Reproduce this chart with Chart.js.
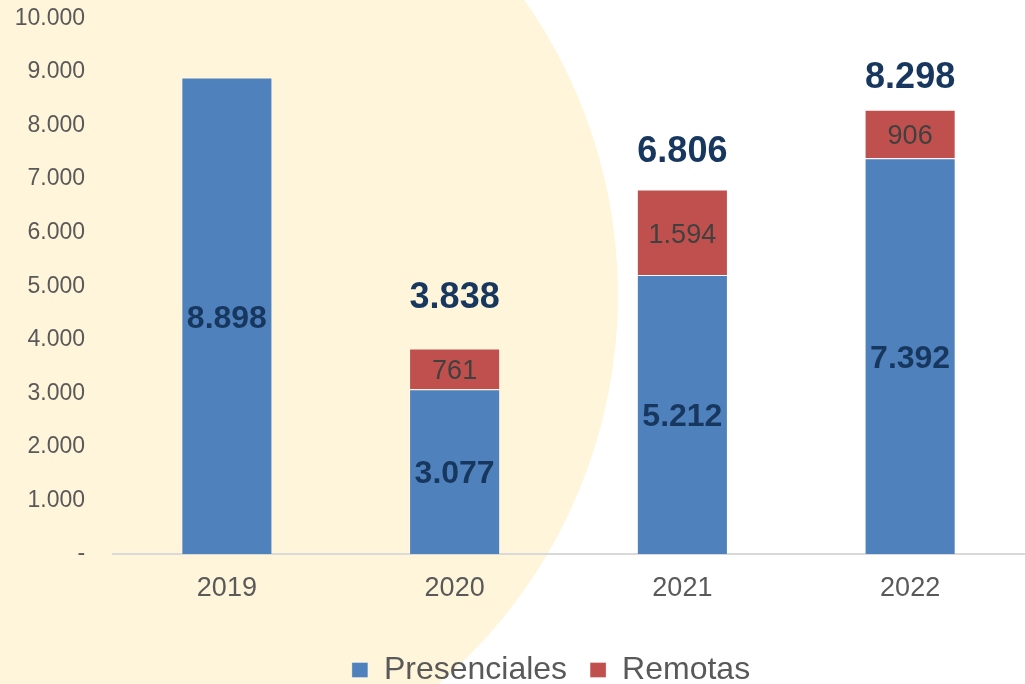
<!DOCTYPE html>
<html>
<head>
<meta charset="utf-8">
<script src="https://cdn.jsdelivr.net/npm/chart.js@4/dist/chart.umd.min.js"></script>
<style>
  html, body { margin: 0; padding: 0; background: #ffffff; }
  #wrap { width: 1025px; height: 684px; }
</style>
</head>
<body>
<div id="wrap"><canvas id="chart" width="1025" height="684"></canvas></div>
<script>
// values
const years = ["2019", "2020", "2021", "2022"];
const presenciales = [8898, 3077, 5212, 7392];
const remotas = [null, 761, 1594, 906];
const totales = [null, 3838, 6806, 8298];
const yTicks = [0, 1000, 2000, 3000, 4000, 5000, 6000, 7000, 8000, 9000, 10000];

const FONT = "'Liberation Sans', Arial, sans-serif";

// 8898 -> "8.898"
function fmt(v) {
  return String(v).replace(/\B(?=(\d{3})+(?!\d))/g, ".");
}

// cream circle behind the left part of the chart
const backdrop = {
  id: "backdrop",
  beforeDraw(chart) {
    const ctx = chart.ctx;
    ctx.save();
    ctx.fillStyle = "#ffffff";
    ctx.fillRect(0, 0, chart.width, chart.height);
    ctx.beginPath();
    ctx.arc(107, 295, 511, 0, Math.PI * 2);
    ctx.fillStyle = "#FFF5DB";
    ctx.fill();
    ctx.restore();
  }
};

// numbers inside the bar pieces and totals above the stacks
const barLabels = {
  id: "barLabels",
  afterDatasetsDraw(chart, args, opts) {
    const ctx = chart.ctx;
    const dy = opts.shift; // "middle" baseline sits a little high for digits
    ctx.save();
    ctx.textAlign = "center";
    ctx.textBaseline = "middle";
    chart.data.datasets.forEach((ds, d) => {
      const meta = chart.getDatasetMeta(d);
      ctx.font = opts.fonts[d];
      ctx.fillStyle = opts.colors[d];
      meta.data.forEach((bar, i) => {
        const v = ds.data[i];
        if (v == null) return;
        ctx.fillText(fmt(v), bar.x, (bar.y + bar.base) / 2 + dy);
      });
    });
    const top = chart.getDatasetMeta(1);
    ctx.font = opts.totalFont;
    ctx.fillStyle = opts.totalColor;
    totales.forEach((t, i) => {
      if (t == null) return;
      const bar = top.data[i];
      ctx.fillText(fmt(t), bar.x, bar.y - opts.totalGap[i] + dy);
    });
    ctx.restore();
  }
};

new Chart(document.getElementById("chart"), {
  type: "bar",
  data: {
    labels: years,
    datasets: [
      {
        label: "Presenciales",
        data: presenciales,
        backgroundColor: "#4F81BD",
        borderColor: "rgba(255,255,255,0.35)",
        borderWidth: 1,
        borderSkipped: "start"
      },
      {
        label: "Remotas",
        data: remotas,
        backgroundColor: "#C0504D",
        borderColor: "rgba(255,255,255,0.35)",
        borderWidth: 1,
        borderSkipped: "start"
      }
    ]
  },
  options: {
    responsive: false,
    animation: false,
    layout: { padding: { top: 18.5, left: 78, right: 1, bottom: -12 } },
    datasets: { bar: { barPercentage: 0.4, categoryPercentage: 1 } },
    scales: {
      x: {
        stacked: true,
        grid: { display: false },
        border: { display: true, color: "#D9D9D9", width: 2 },
        ticks: { color: "#595959", padding: 10, font: { family: FONT, size: 27 } },
        afterFit(s) { s.height = 77; }
      },
      y: {
        stacked: true,
        min: 0,
        max: 10000,
        grid: { display: false },
        border: { display: false },
        afterBuildTicks(s) { s.ticks = yTicks.map(v => ({ value: v })); },
        // mirrored so the labels are not clipped to the narrow axis box;
        // right edge of the labels ends up at x = 85
        ticks: {
          color: "#595959",
          mirror: true,
          crossAlign: "far",
          padding: -98.3,
          font: { family: FONT, size: 23 },
          callback: v => (v === 0 ? "-" : fmt(v))
        },
        afterFit(s) { s.width = 35; }
      }
    },
    plugins: {
      legend: {
        position: "bottom",
        labels: {
          color: "#595959",
          boxWidth: 16,
          boxHeight: 15,
          padding: 23,
          font: { family: FONT, size: 32 }
        }
      },
      tooltip: { enabled: false },
      barLabels: {
        fonts: ["bold 32px " + FONT, "27px " + FONT],
        colors: ["#17375E", "#404040"],
        totalFont: "bold 36px " + FONT,
        totalColor: "#17375E",
        totalGap: [0, 53, 40, 35],
        shift: 3
      }
    }
  },
  plugins: [backdrop, barLabels]
});
</script>
</body>
</html>
